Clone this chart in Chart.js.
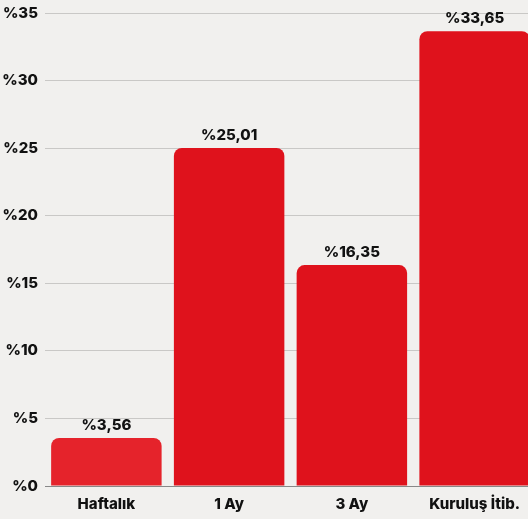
<!DOCTYPE html>
<html>
<head>
<meta charset="utf-8">
<script src="https://cdn.jsdelivr.net/npm/chart.js@4.4.0/dist/chart.umd.min.js"></script>
<style>
  html, body { margin: 0; padding: 0; background: #f1f0ee; overflow: hidden; }
  #wrap { width: 536px; height: 519px; }
</style>
</head>
<body>
<div id="wrap"><canvas id="returnsChart"></canvas></div>
<script>
const categories = ["Haftalık", "1 Ay", "3 Ay", "Kuruluş İtib."];
const returns = [3.56, 25.01, 16.35, 33.65];
const barColors = ["#e5232b", "#df121c", "#df121c", "#df121c"];
const yMax = 35;
const yStep = 5;

const fontFamily = "Inter, 'Open Sans', sans-serif";

function fmtPct(v) {
  return "%" + v.toFixed(2).replace(".", ",");
}

// value labels above each bar
const valueLabels = {
  id: "valueLabels",
  afterDatasetsDraw(chart) {
    const ctx = chart.ctx;
    const meta = chart.getDatasetMeta(0);
    ctx.save();
    ctx.font = "800 15px " + fontFamily;
    ctx.fillStyle = "#111";
    ctx.textAlign = "center";
    ctx.textBaseline = "bottom";
    meta.data.forEach((bar, i) => {
      ctx.fillText(fmtPct(returns[i]), bar.x, bar.y - 5);
    });
    ctx.restore();
  }
};

new Chart(document.getElementById("returnsChart"), {
  type: "bar",
  data: {
    labels: categories,
    datasets: [{
      data: returns,
      backgroundColor: barColors,
      borderRadius: { topLeft: 8, topRight: 8 },
      borderSkipped: "bottom",
      barPercentage: 0.9,
      categoryPercentage: 1
    }]
  },
  options: {
    responsive: true,
    maintainAspectRatio: false,
    animation: false,
    layout: { padding: { top: 13, right: 0, left: 0, bottom: 0 } },
    plugins: {
      legend: { display: false },
      tooltip: { enabled: false }
    },
    scales: {
      x: {
        afterFit: s => { s.height = 33; },
        grid: { display: false, drawTicks: false },
        border: { color: "#888", width: 1 },
        ticks: {
          padding: 9,
          color: "#111",
          font: { family: fontFamily, size: 15, weight: "800" }
        }
      },
      y: {
        min: 0,
        max: yMax,
        afterFit: s => { s.width = 45; s.paddingTop = 0; s.paddingBottom = 0; },
        grid: { color: "#c9c8c6", drawTicks: false },
        border: { display: false },
        ticks: {
          stepSize: yStep,
          padding: 7,
          color: "#111",
          font: { family: fontFamily, size: 15, weight: "800" },
          callback: v => "%" + v
        }
      }
    }
  },
  plugins: [valueLabels]
});
</script>
</body>
</html>
